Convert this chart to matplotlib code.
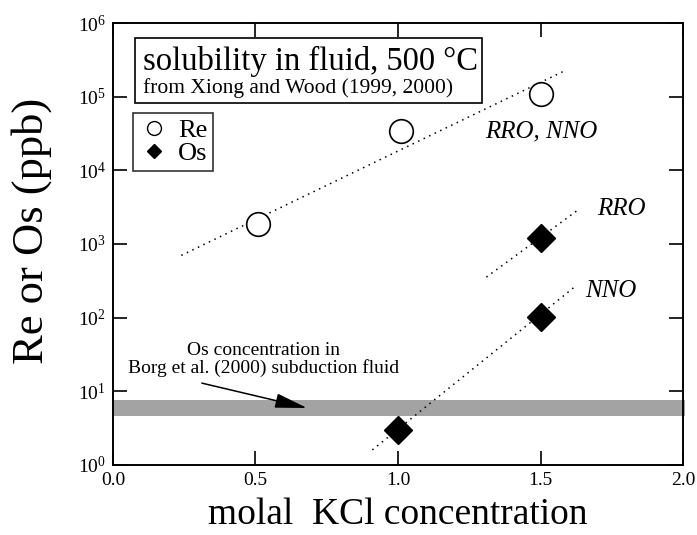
import numpy as np
import matplotlib
matplotlib.use('Agg')
import matplotlib.pyplot as plt
from matplotlib.patches import Rectangle
from matplotlib.ticker import LogLocator, LogFormatterMathtext, MultipleLocator, NullLocator

plt.rcParams['font.family'] = ['Liberation Serif', 'DejaVu Serif']
plt.rcParams['mathtext.fontset'] = 'stix'

# Re solubility (ppb) vs molal KCl
re_kcl = [0.51, 1.01, 1.5]
re_ppb = [1860, 34000, 107000]
# Os solubility (ppb)
os_kcl = [1.0, 1.5, 1.5]
os_ppb = [3.0, 102, 1200]

# dotted trend lines (end points)
re_fit_x = [0.24, 1.58]
re_fit_y = [700, 220000]
rro_fit_x = [1.31, 1.635]
rro_fit_y = [355, 2960]
nno_fit_x = [0.91, 1.62]
nno_fit_y = [1.6, 262]

# Borg et al. (2000) Os band
band_lo, band_hi = 4.6, 7.6

fig = plt.figure(figsize=(6.97, 5.35), dpi=100)
ax = fig.add_axes([0.162, 0.131, 0.818, 0.826])

ax.axhspan(band_lo, band_hi, xmin=0, xmax=1.004, color='#a3a3a3', lw=0, clip_on=False, zorder=1)

ax.plot(re_fit_x, re_fit_y, ls=(0, (1, 3)), color='black', lw=1.1, zorder=2)
ax.plot(rro_fit_x, rro_fit_y, ls=(0, (1, 3)), color='black', lw=1.1, zorder=2)
ax.plot(nno_fit_x, nno_fit_y, ls=(0, (1, 3)), color='black', lw=1.1, zorder=2)

ax.plot(re_kcl, re_ppb, 'o', ms=17, mfc='white', mec='black', mew=1.2, ls='none', zorder=3)
ax.plot(os_kcl, os_ppb, 'D', ms=14, mfc='black', mec='black', ls='none', zorder=3)

ax.set_yscale('log')
ax.set_xlim(0, 2.0)
ax.set_ylim(1, 1e6)
ax.xaxis.set_major_locator(MultipleLocator(0.5))
ax.xaxis.set_major_formatter(plt.FormatStrFormatter('%.1f'))
ax.yaxis.set_major_locator(LogLocator(base=10, numticks=10))
ax.yaxis.set_minor_locator(NullLocator())
ax.yaxis.set_major_formatter(LogFormatterMathtext())
ax.tick_params(direction='in', length=10, width=1.2, top=True, right=True, labelsize=14, pad=5)
for s in ax.spines.values():
    s.set_linewidth(1.4)

ax.set_xlabel('molal  KCl concentration', fontsize=27, labelpad=6)
ax.set_ylabel('Re or Os (ppb)', fontsize=32)
ax.yaxis.set_label_coords(-0.107, 0.529)

# title box
ax.add_patch(Rectangle((0.0386, 0.819), 0.608, 0.147, transform=ax.transAxes,
                       fill=False, ec='black', lw=1.2, zorder=4))
ax.text(0.052, 0.914, 'solubility in fluid, 500 °C', transform=ax.transAxes,
        fontsize=23.5, va='center', ha='left')
ax.text(0.052, 0.852, 'from Xiong and Wood (1999, 2000)', transform=ax.transAxes,
        fontsize=15.5, va='center', ha='left')

# legend box
ax.plot([], [], 'o', ms=10, mfc='white', mec='black', mew=1.0, ls='none', label='Re')
ax.plot([], [], 'D', ms=7, mfc='black', mec='black', ls='none', label='Os')
h, l = ax.get_legend_handles_labels()
leg = ax.legend(h[-2:], l[-2:], loc='upper left', bbox_to_anchor=(0.035, 0.796),
                borderaxespad=0, fontsize=19, frameon=True, fancybox=False,
                handletextpad=0.3, handlelength=1.2, borderpad=0.2, labelspacing=0.0)
leg.get_frame().set_edgecolor('black')
leg.get_frame().set_linewidth(1.2)

ax.text(1.305, 3.4e4, 'RRO, NNO', fontsize=18, style='italic', va='center', ha='left')
ax.text(1.70, 3.0e3, 'RRO', fontsize=18, style='italic', va='center', ha='left')
ax.text(1.655, 2.3e2, 'NNO', fontsize=18, style='italic', va='center', ha='left')

ax.text(0.528, 27, 'Os concentration in\nBorg et al. (2000) subduction fluid',
        fontsize=14, ha='center', va='center', linespacing=0.95)
ax.annotate('', xy=(0.681, 5.93), xytext=(0.312, 12.9),
            arrowprops=dict(arrowstyle='-|>,head_length=1.1,head_width=0.25', color='black',
                            lw=1.1, mutation_scale=18, shrinkA=0, shrinkB=0))

fig.savefig('out.png', dpi=100, facecolor='white')
